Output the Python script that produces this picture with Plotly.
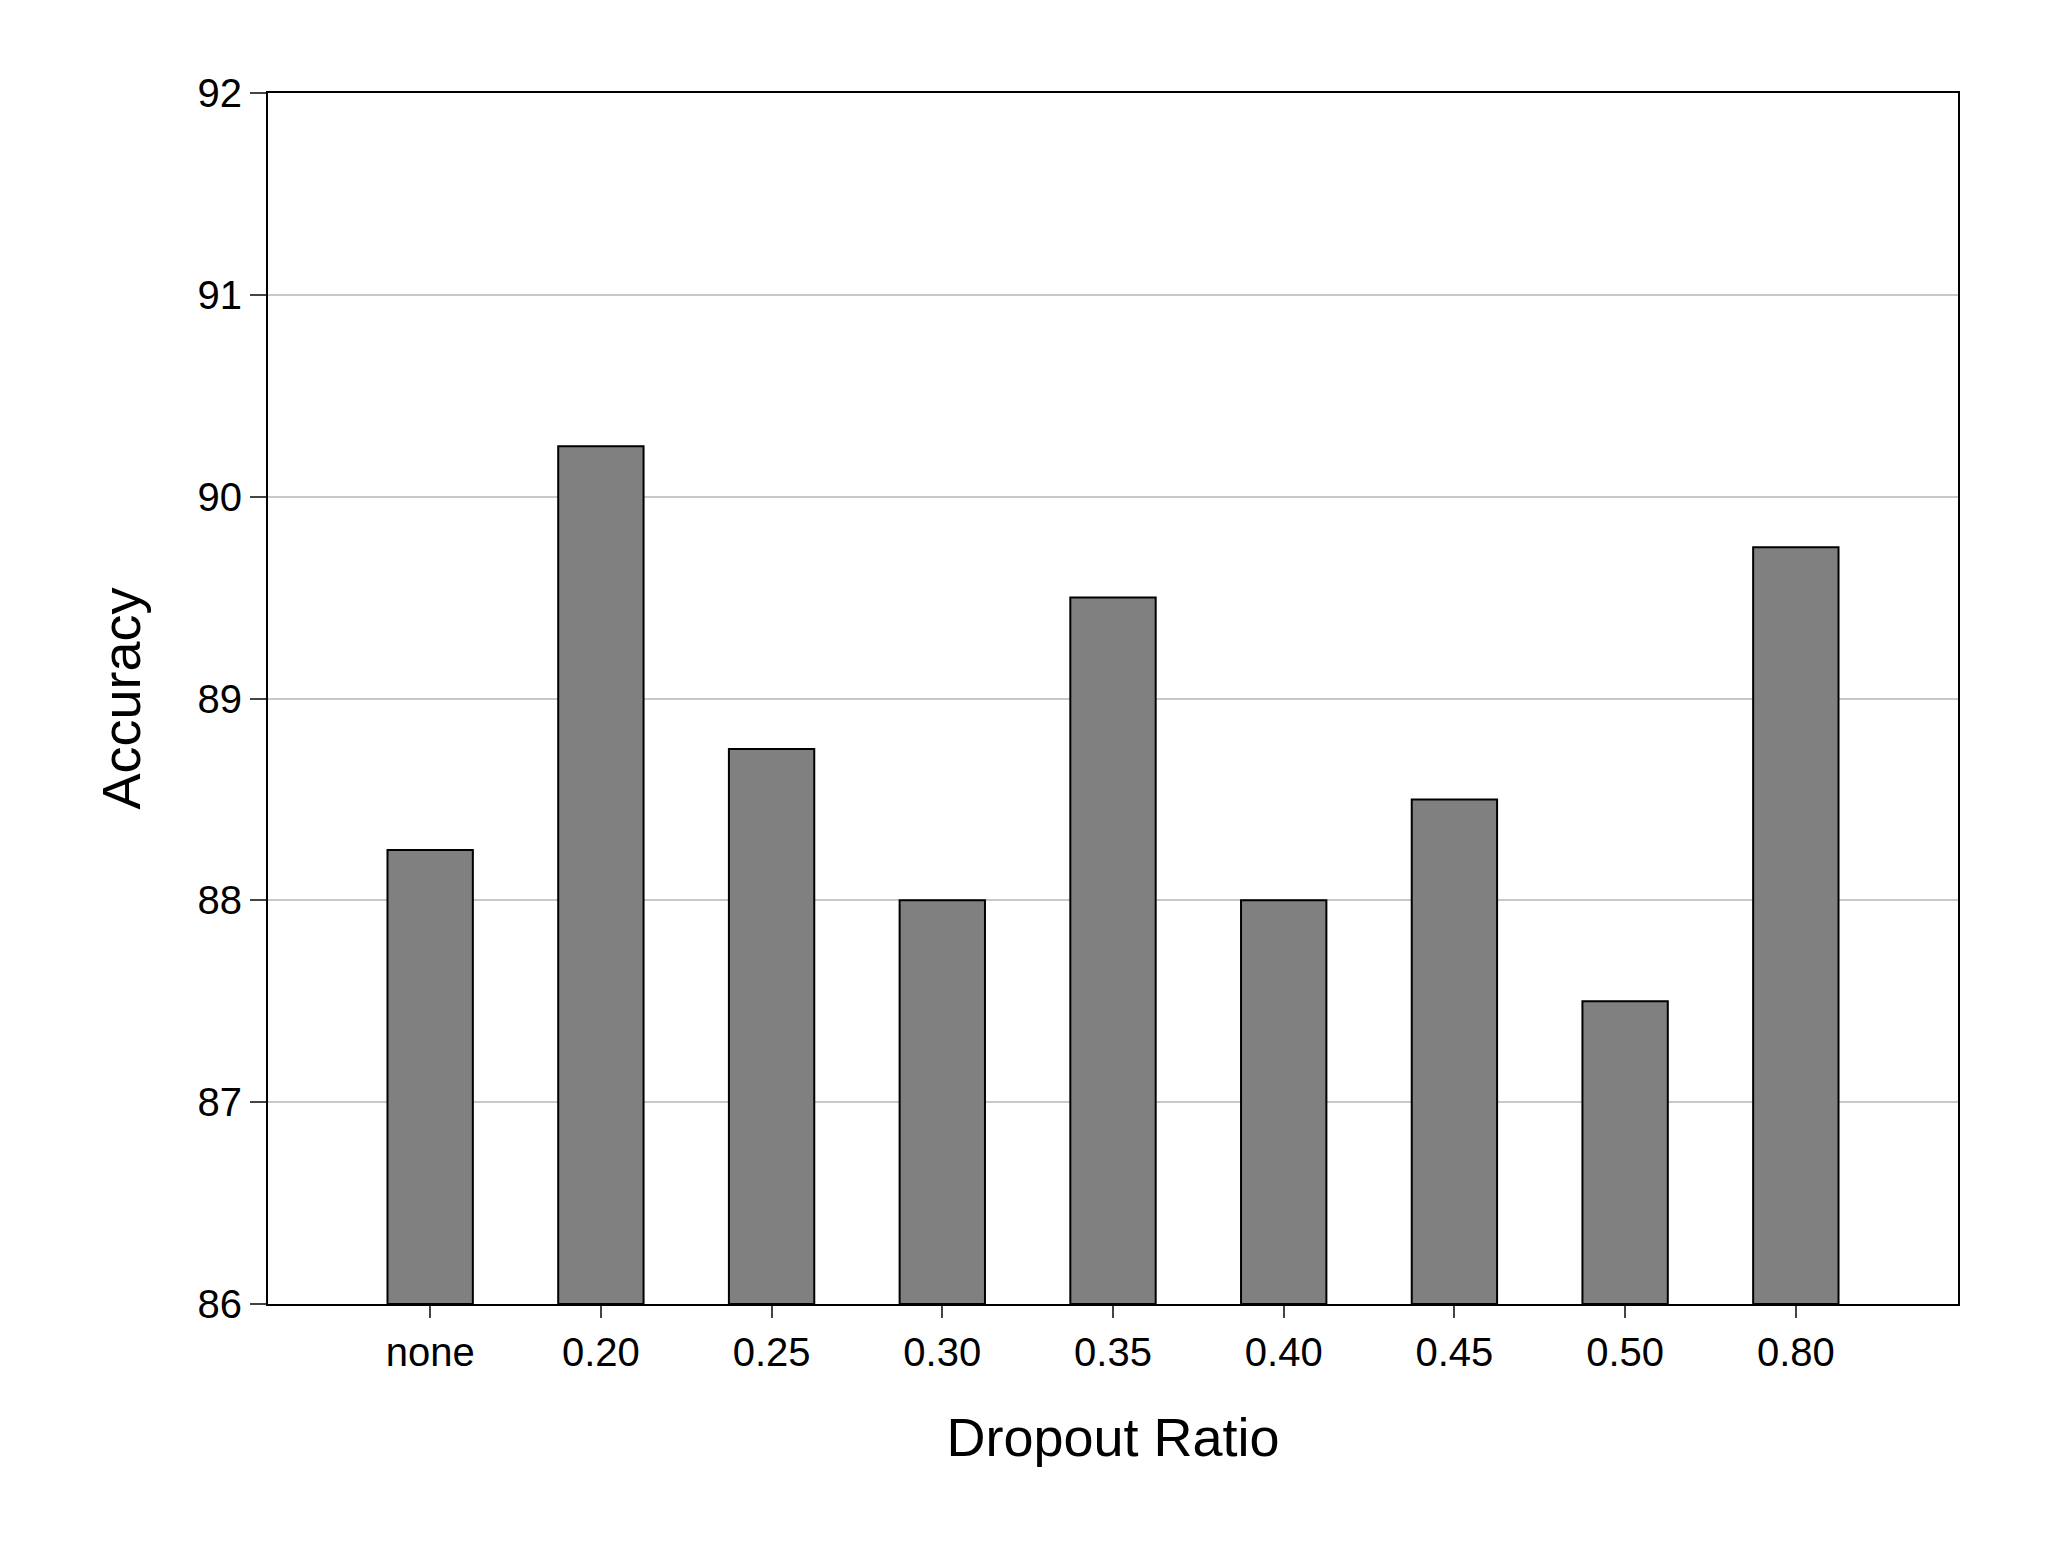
import plotly.graph_objects as go

categories = ["none", "0.20", "0.25", "0.30", "0.35", "0.40", "0.45", "0.50", "0.80"]
accuracy = [88.25, 90.25, 88.75, 88.0, 89.5, 88.0, 88.5, 87.5, 89.75]

fig = go.Figure(go.Bar(
    x=list(range(len(categories))), y=[v - 86 for v in accuracy], base=86, width=0.5,
    marker=dict(color="#808080", line=dict(color="black", width=2)),
))

fig.update_layout(
    width=2047, height=1563, plot_bgcolor="white", paper_bgcolor="white",
    margin=dict(l=260, r=97, t=85, b=267),
    font=dict(family="Liberation Sans, Arial", color="black", size=40),
    showlegend=False,
    xaxis=dict(
        tickmode="array", tickvals=list(range(len(categories))), ticktext=categories,
        range=[-0.95, 8.95], showline=True, linecolor="black", linewidth=2, mirror=True,
        ticks="outside", ticklen=12, tickwidth=2, showgrid=False,
        title=dict(text="Dropout Ratio", font=dict(size=54), standoff=45),
    ),
    yaxis=dict(
        range=[86, 92], dtick=1, showline=True, linecolor="black", linewidth=2, mirror=True,
        ticks="outside", ticklen=16, tickwidth=2, showgrid=True, gridcolor="#c8c8c8", gridwidth=2,
        title=dict(text="Accuracy", font=dict(size=54), standoff=40),
    ),
)
fig.write_html("out.html")
